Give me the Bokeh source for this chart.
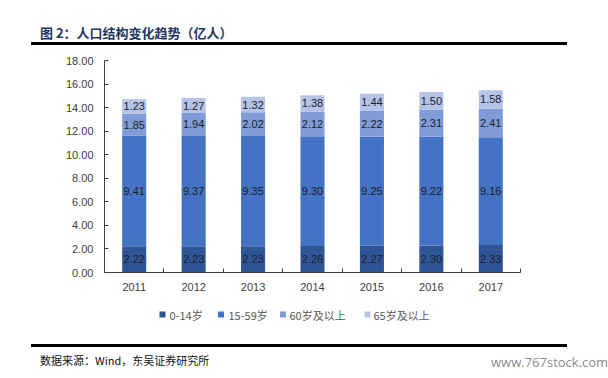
from bokeh.plotting import figure
from bokeh.models import (ColumnDataSource, Div, FixedTicker,
                          NumeralTickFormatter, Range1d)
from bokeh.layouts import column
from bokeh.embed import file_html
from bokeh.resources import INLINE
from bokeh.core.properties import value

years = ["2011", "2012", "2013", "2014", "2015", "2016", "2017"]
age_0_14 = [2.22, 2.23, 2.23, 2.26, 2.27, 2.30, 2.33]
age_15_59 = [9.41, 9.37, 9.35, 9.30, 9.25, 9.22, 9.16]
age_60_plus = [1.85, 1.94, 2.02, 2.12, 2.22, 2.31, 2.41]
age_65_plus = [1.23, 1.27, 1.32, 1.38, 1.44, 1.50, 1.58]
series_names = ["0-14岁", "15-59岁", "60岁及以上", "65岁及以上"]
colors = ["#2F5597", "#4472C4", "#7F9CD8", "#B4C3E6"]
y_ticks = [0, 2, 4, 6, 8, 10, 12, 14, 16, 18]
TITLE = "图 2：人口结构变化趋势（亿人）"
SOURCE = "数据来源：Wind，东吴证券研究所"
WATERMARK = "www.767stock.com"

series = [age_0_14, age_15_59, age_60_plus, age_65_plus]
keys = ["s0", "s1", "s2", "s3"]
xs = [i + 0.5 for i in range(len(years))]
data = {"x": xs}
for k, s in zip(keys, series):
    data[k] = s
src = ColumnDataSource(data)

W = 592
BL, BR = 104, 72
p = figure(width=W, height=248, output_backend="svg", toolbar_location=None,
           x_range=Range1d(0, len(years)), y_range=Range1d(0, 18),
           min_border_left=BL, min_border_right=BR, min_border_top=10,
           min_border_bottom=26)
p.outline_line_color = None
p.xgrid.visible = False
p.ygrid.visible = False

p.vbar_stack(keys, x="x", width=0.405, color=colors, line_color=None, source=src)

# data labels
lx, ly, lt = [], [], []
for i in range(len(years)):
    base = 0.0
    for s in series:
        lx.append(xs[i])
        ly.append(base + s[i] / 2)
        lt.append(f"{s[i]:.2f}")
        base += s[i]
p.text(x=lx, y=ly, text=lt, text_align="center", text_baseline="middle",
       text_font=value("Liberation Sans"), text_font_size="11px", text_color="#1E1E2A")

# axes
xa = p.xaxis[0]
xa.ticker = FixedTicker(ticks=xs, minor_ticks=list(range(len(years) + 1)))
xa.major_label_overrides = {x: y for x, y in zip(xs, years)}
xa.major_tick_in = 0
xa.major_tick_out = 0
xa.minor_tick_in = 4
xa.minor_tick_out = 0
xa.minor_tick_line_color = "#404040"
xa.axis_line_color = "#404040"
xa.major_label_text_font = "Liberation Sans"
xa.major_label_text_font_size = "11px"
xa.major_label_text_color = "#404040"
xa.major_label_standoff = 10

ya = p.yaxis[0]
ya.ticker = FixedTicker(ticks=y_ticks)
ya.formatter = NumeralTickFormatter(format="0.00")
ya.major_tick_in = 4
ya.major_tick_out = 0
ya.minor_tick_in = 0
ya.minor_tick_out = 0
ya.axis_line_color = "#404040"
ya.major_tick_line_color = "#404040"
ya.major_label_text_font = "Liberation Sans"
ya.major_label_text_font_size = "11px"
ya.major_label_text_color = "#404040"
ya.major_label_standoff = 11

# legend drawn in its own small figure; its frame is aligned with the chart frame,
# so the x range is expressed in page pixels of that frame
LEG_H = 37
lf = figure(width=W, height=LEG_H, output_backend="svg", toolbar_location=None,
            x_range=Range1d(BL, W - BR), y_range=Range1d(0, LEG_H),
            x_axis_type=None, y_axis_type=None,
            min_border_left=BL, min_border_right=BR, min_border_top=0, min_border_bottom=0)
lf.grid.visible = False
lf.outline_line_color = None
swatch_x = [162, 220.5, 282.5, 367]   # layout positions of legend swatches (px)
label_x = [169, 228, 289, 373]        # layout positions of legend labels (px)
leg_y = 21
lf.rect(x=swatch_x, y=[leg_y] * len(colors), width=6, height=6,
        width_units="screen", height_units="screen", fill_color=colors, line_color=None)
lf.text(x=label_x, y=[leg_y] * len(series_names), text=series_names,
        text_align="left", text_baseline="middle",
        text_font=value("Noto Sans CJK SC"), text_font_size="11px", text_color="#595959")

title_html = f"""<div style="position:relative;width:{W}px;height:40px;">
<div style="position:absolute;left:35px;top:19px;font-family:'Noto Sans CJK SC';font-weight:bold;font-size:13px;color:#1F3864;line-height:18px;white-space:nowrap;">{TITLE}</div>
<div style="position:absolute;left:26px;top:37px;width:536px;height:3px;background:#000;"></div></div>"""
title_div = Div(text=title_html, width=W, height=40)

src_html = f"""<div style="position:relative;width:{W}px;height:34px;">
<div style="position:absolute;left:26px;top:4px;width:536px;height:3px;background:#000;"></div>
<div style="position:absolute;left:35px;top:13px;font-family:'Noto Sans CJK SC';font-size:11px;color:#111;line-height:14px;white-space:nowrap;">{SOURCE}</div>
<div style="position:absolute;left:486px;top:14px;font-family:'Open Sans';font-size:13px;color:#8C8C8C;line-height:16px;white-space:nowrap;">{WATERMARK}</div></div>"""
src_div = Div(text=src_html, width=W, height=34)

layout = column(title_div, p, lf, src_div, spacing=0)
open("out.html", "w").write(file_html(layout, INLINE))
